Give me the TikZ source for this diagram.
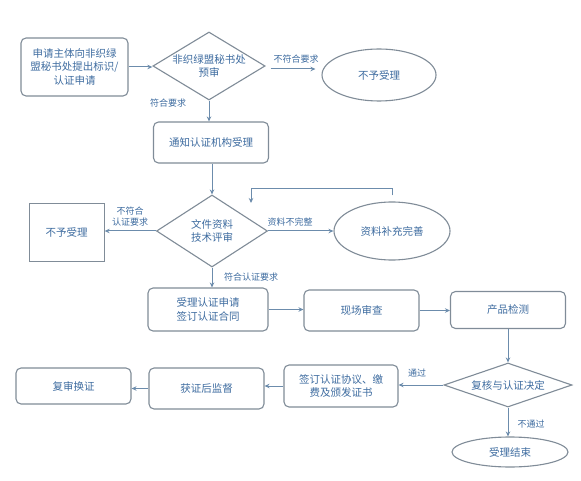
\documentclass[tikz,border=0pt]{standalone}
\usepackage{fontspec}
\setmainfont{Noto Sans CJK SC}
\usetikzlibrary{shapes.geometric,arrows.meta}
\definecolor{bd}{RGB}{128,140,152}
\definecolor{tx}{RGB}{62,108,160}
\definecolor{ar}{RGB}{108,140,172}
\begin{document}
\begin{tikzpicture}[x=1pt,y=-1pt,
  every node/.style={text=tx, align=center, inner sep=0pt},
  main/.style={font=\fontsize{10.5}{13.8}\selectfont},
  lbl/.style={font=\fontsize{9}{11}\selectfont},
  rbox/.style={main, draw=bd, line width=1.1pt, rounded corners=5pt},
  sbox/.style={main, draw=bd, line width=0.9pt},
  dia/.style={main, draw=bd, line width=1.1pt, diamond},
  ell/.style={main, draw=bd, line width=1.1pt, ellipse},
  arr/.style={draw=ar, line width=1pt, -{Stealth[length=5pt,width=4.5pt]}}
]
\useasboundingbox (0,0) rectangle (581,481);
\fill[white] (0,0) rectangle (581,481);

% nodes
\node[rbox, minimum width=107pt, minimum height=58pt] (box1) at (74.5,67) {申请主体向非织绿\\盟秘书处提出标识/\\认证申请};
\node[dia, aspect=1.65, minimum width=112pt, minimum height=68pt] (d1) at (209,66) {非织绿盟秘书处\\预审};
\node[ell, minimum width=114pt, minimum height=52pt] (e1) at (379,75) {不予受理};
\node[rbox, minimum width=115pt, minimum height=41pt] (box2) at (211,142.5) {通知认证机构受理};
\node[dia, aspect=1.54, minimum width=111pt, minimum height=72pt] (d2) at (212,231) {文件资料\\技术评审};
\node[sbox, minimum width=75pt, minimum height=58pt] (r1) at (66.7,232.3) {不予受理};
\node[ell, minimum width=116pt, minimum height=58pt] (e2) at (392,231) {资料补充完善};
\node[rbox, minimum width=120pt, minimum height=43pt] (box3) at (208,309.5) {受理认证申请\\签订认证合同};
\node[rbox, minimum width=115pt, minimum height=41pt] (box4) at (361.5,310.5) {现场审查};
\node[rbox, minimum width=115pt, minimum height=37pt] (box5) at (508,310) {产品检测};
\node[dia, aspect=2.9, minimum width=128pt, minimum height=44pt] (d3) at (508,385) {复核与认证决定};
\node[rbox, minimum width=114pt, minimum height=42pt] (box6) at (341,386) {签订认证协议、缴\\费及颁发证书};
\node[rbox, minimum width=115pt, minimum height=41pt] (box7) at (206.5,388.5) {获证后监督};
\node[rbox, minimum width=115pt, minimum height=36pt] (box8) at (73.5,386) {复审换证};
\node[ell, minimum width=116pt, minimum height=30pt] (e3) at (510,452) {受理结束};

% labels
\node[lbl] (l1) at (296,59) {不符合要求};
\node[lbl] (l2) at (168,103) {符合要求};
\node[lbl] (l3) at (130,217) {不符合\\认证要求};
\node[lbl] (l4) at (290,222) {资料不完整};
\node[lbl] (l5) at (251,277) {符合认证要求};
\node[lbl] (l6) at (417,373) {通过};
\node[lbl] (l7) at (531,424) {不通过};

% connectors
\draw[arr] (box1.east) -- (box1.east -| d1.west);
\draw[arr, shorten <=5pt, shorten >=6pt] ([yshift=-3pt]d1.east) -- ([yshift=-3pt]d1.east -| e1.west);
\draw[arr] (d1.south) -- (d1.south |- box2.north);
\draw[arr] (box2.south -| d2.north) -- (d2.north);
\draw[arr] (d2.west) -- (d2.west -| r1.east);
\draw[arr] (d2.east) -- (d2.east -| e2.west);
\coordinate (fbtop) at (251,189);
\coordinate (fbend) at (251,203);
\draw[arr, shorten <=6pt] (e2.north) |- (fbtop) -- (fbend);
\draw[arr] (d2.south) -- (d2.south |- box3.north);
\draw[arr] (box3.east) -- (box3.east -| box4.west);
\draw[arr] (box4.east) -- (box4.east -| box5.west);
\draw[arr] (box5.south) -- (d3.north);
\draw[arr] (d3.west) -- (d3.west -| box6.east);
\draw[arr] (box6.west) -- (box6.west -| box7.east);
\draw[arr] (box7.west) -- (box7.west -| box8.east);
\draw[arr] (d3.south) -- (d3.south |- e3.north);
\end{tikzpicture}
\end{document}
